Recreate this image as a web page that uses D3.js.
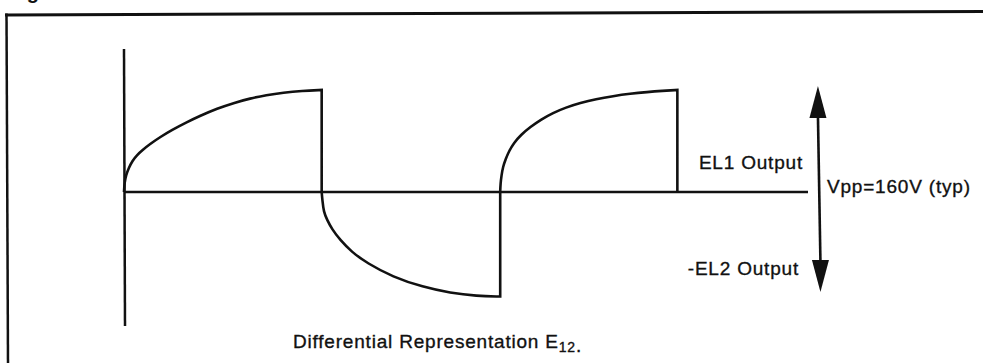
<!DOCTYPE html>
<html>
<head>
<meta charset="utf-8">
<script src="https://cdn.jsdelivr.net/npm/d3@7"></script>
<style>
    body { margin: 0; background: #fff; }
    svg { display: block; }
    text { font-family: "Liberation Sans", Arial, Helvetica, sans-serif; fill: #111; stroke: #111; stroke-width: 0.35px; }
</style>
</head>
<body>
<div id="chart"></div>
<script>
// waveform: time in arbitrary units (0..100 along the zero line), volts
const riseTime1 = [0, 0.07, 0.3, 0.7, 1.2, 1.9, 2.8, 3.8, 5.3, 7.0, 9.1, 11.1, 13.6, 16.2, 18.4, 20.8, 23.3, 26.0, 28.9];
const riseVolts1 = [0, 6.9, 13.1, 18.5, 23.8, 28.5, 32.7, 36.9, 42.3, 47.7, 53.5, 58.5, 64.2, 68.8, 71.9, 74.6, 76.5, 77.8, 78.5];

const fallTime = [28.9, 29.0, 29.2, 29.7, 30.4, 31.6, 33.3, 35.5, 39.3, 43.7, 47.7, 51.6, 55.0];
const fallVolts = [0, -6.2, -15.4, -21.5, -28.5, -36.9, -46.2, -54.6, -65.4, -73.1, -77.7, -80, -80.4];

const riseTime2 = [55.0, 55.04, 55.2, 55.4, 55.8, 56.3, 57.0, 58.0, 59.4, 61.0, 62.7, 64.6, 66.7, 69.0, 71.5, 74.0, 76.5, 78.7, 80.9];
const riseVolts2 = [0, 6.2, 13.1, 19.2, 25.4, 31.5, 37.7, 43.8, 50, 55.8, 60.8, 65, 68.5, 71.5, 73.8, 75.6, 76.9, 77.8, 78.5];

const timeDomain = [0, 100];
const voltDomain = [-80, 80];
const axisVolts = [110, -103];     // extent of the vertical axis
const vppVolts = [81.5, -77];      // tips of the Vpp arrow
const vppTime = 101.6;

const el1Label = 'EL1 Output';
const el2Label = '-EL2 Output';
const vppLabel = 'Vpp=160V (typ)';
const captionText = 'Differential Representation E';
const captionSub = '12';

class WaveChart {
    constructor(selector) {
        this.width = 983;
        this.height = 363;

        this.svg = d3.select(selector).append('svg')
            .attr('width', this.width)
            .attr('height', this.height)
        ;

        this.x = d3.scaleLinear().domain(timeDomain).range([124, 808]);
        this.y = d3.scaleLinear().domain(voltDomain).range([296, 88]);
    }

    draw() {
        let svg = this.svg;

        // page frame (scan is slightly skewed)
        svg.append('line')
            .attr('x1', 5).attr('y1', 15).attr('x2', 983).attr('y2', 11.5)
            .attr('stroke', '#111').attr('stroke-width', 3)
        ;
        svg.append('line')
            .attr('x1', 6.5).attr('y1', 13.5).attr('x2', 8).attr('y2', 363)
            .attr('stroke', '#111').attr('stroke-width', 2.5)
        ;
        // figure title, almost entirely above the cropped edge
        svg.append('text')
            .attr('x', 9).attr('y', -1.5)
            .style('font-size', '20px').style('font-weight', 'bold')
            .style('stroke', 'none')
            .text('Figure 3.')
        ;

        // vertical axis and zero line
        svg.append('line')
            .attr('x1', this.x(0)).attr('x2', this.x(0) + 1)
            .attr('y1', this.y(axisVolts[0])).attr('y2', this.y(axisVolts[1]))
            .attr('stroke', '#111').attr('stroke-width', 2.5)
        ;
        svg.append('line')
            .attr('x1', this.x(timeDomain[0])).attr('x2', this.x(timeDomain[1]))
            .attr('y1', this.y(0)).attr('y2', this.y(0))
            .attr('stroke', '#111').attr('stroke-width', 2.5)
        ;

        // waveform: curved segments joined by vertical edges
        let segments = [
            { time: riseTime1, volts: riseVolts1 },
            { time: fallTime, volts: fallVolts },
            { time: riseTime2, volts: riseVolts2 }
        ];
        let segLine = d3.line()
            .x(d => this.x(d[0]))
            .y(d => this.y(d[1]))
            .curve(d3.curveBasis)
        ;
        let pathStr = '';
        segments.forEach((seg, i) => {
            let pts = seg.time.map((t, j) => [t, seg.volts[j]]);
            let s = segLine(pts);
            pathStr += i === 0 ? s : 'L' + s.slice(1);
        });
        let last = segments[segments.length - 1];
        pathStr += 'L' + this.x(last.time[last.time.length - 1]) + ',' + this.y(0);

        svg.append('path')
            .attr('d', pathStr)
            .attr('fill', 'none')
            .attr('stroke', '#111')
            .attr('stroke-width', 2.6)
            .attr('stroke-linejoin', 'miter')
        ;

        // Vpp double arrow
        let ax = this.x(vppTime);
        let yTop = this.y(vppVolts[0]);
        let yBot = this.y(vppVolts[1]);
        let headH = 32, headW = 8.5;
        svg.append('line')
            .attr('x1', ax - 1).attr('x2', ax + 1.5)
            .attr('y1', yTop + headH - 2).attr('y2', yBot - headH + 2)
            .attr('stroke', '#111').attr('stroke-width', 2.6)
        ;
        svg.append('path')
            .attr('d', `M${ax - 1},${yTop}L${ax - 1 + headW},${yTop + headH}L${ax - 1 - headW},${yTop + headH}Z`)
            .attr('fill', '#111')
        ;
        svg.append('path')
            .attr('d', `M${ax + 1.5},${yBot}L${ax + 1.5 + headW},${yBot - headH}L${ax + 1.5 - headW},${yBot - headH}Z`)
            .attr('fill', '#111')
        ;

        // labels
        let fs = '19px', ls = '0.8px';
        svg.append('text')
            .attr('x', 803).attr('y', 169)
            .attr('text-anchor', 'end')
            .style('font-size', fs).style('letter-spacing', ls)
            .text(el1Label)
        ;
        svg.append('text')
            .attr('x', 799).attr('y', 275)
            .attr('text-anchor', 'end')
            .style('font-size', fs).style('letter-spacing', ls)
            .text(el2Label)
        ;
        svg.append('text')
            .attr('x', 827).attr('y', 193)
            .style('font-size', fs).style('letter-spacing', ls)
            .text(vppLabel)
        ;

        let cap = svg.append('text')
            .attr('x', 293).attr('y', 348)
            .style('font-size', fs).style('letter-spacing', ls)
        ;
        cap.append('tspan').text(captionText);
        cap.append('tspan')
            .attr('dy', 4)
            .style('font-size', '14px')
            .text(captionSub)
        ;
        cap.append('tspan').text('.');
    }
}

let chart = new WaveChart('#chart');
chart.draw();
</script>
</body>
</html>
